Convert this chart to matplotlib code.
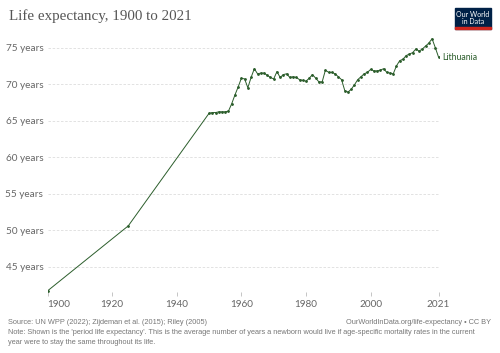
import matplotlib
matplotlib.use("Agg")
import matplotlib.pyplot as plt
from matplotlib.patches import Rectangle

# ── Data ──────────────────────────────────────────────────────────────────
years = [1900, 1925] + list(range(1950, 2022))
life_exp = [
    41.7, 50.6,
    66.0, 66.1, 66.1, 66.2, 66.2, 66.2, 66.3, 67.3, 68.5, 69.6,   # 1950-59
    70.8, 70.7, 69.5, 70.9, 72.1, 71.4, 71.5, 71.5, 71.2, 70.9,   # 1960-69
    70.7, 71.7, 70.9, 71.3, 71.4, 70.9, 71.0, 70.9, 70.6, 70.5,   # 1970-79
    70.4, 70.8, 71.3, 70.8, 70.3, 70.3, 71.9, 71.6, 71.6, 71.4,   # 1980-89
    71.0, 70.6, 69.1, 68.9, 69.3, 69.9, 70.6, 71.0, 71.4, 71.6,   # 1990-99
    72.0, 71.8, 71.8, 71.9, 72.1, 71.6, 71.5, 71.4, 72.5, 73.2,   # 2000-09
    73.4, 73.9, 74.1, 74.3, 74.8, 74.5, 74.8, 75.2, 75.6, 76.2,   # 2010-19
    75.0, 73.7,                                                   # 2020-21
]
country = "Lithuania"
y_ticks = [45, 50, 55, 60, 65, 70, 75]
x_ticks = [1900, 1920, 1940, 1960, 1980, 2000, 2021]

LINE_COLOR = "#2b5d2b"
GRAY = "#666666"

fig = plt.figure(figsize=(5, 3.53), dpi=100)
fig.patch.set_facecolor("white")
ax = fig.add_axes([0.095, 1 - 292 / 353, 0.782, (292 - 38) / 353])

ax.plot(years, life_exp, color=LINE_COLOR, linewidth=0.7,
        marker="o", markersize=1.0, zorder=3)

ax.set_xlim(1900, 2021)
ax.set_ylim(41.55, 76.3)
ax.set_yticks(y_ticks)
ax.set_yticklabels([f"{v} years" for v in y_ticks])
ax.set_xticks(x_ticks)
ax.set_xticklabels([str(v) for v in x_ticks])
ax.get_xticklabels()[0].set_horizontalalignment("left")

ax.tick_params(axis="y", length=0, pad=3, labelsize=7.2, labelcolor=GRAY)
ax.tick_params(axis="x", length=3, width=0.6, color="#bbbbbb", pad=3,
               labelsize=7.2, labelcolor=GRAY)
for s in ax.spines.values():
    s.set_visible(False)
ax.grid(axis="y", color="#dddddd", linestyle=(0, (3, 2)), linewidth=0.6)
ax.set_axisbelow(True)
for lab in ax.get_xticklabels() + ax.get_yticklabels():
    lab.set_family("Lato")

ax.annotate(country, xy=(years[-1], life_exp[-1]), xytext=(3, 0),
            textcoords="offset points", ha="left", va="center",
            fontsize=6.3, color=LINE_COLOR, family="Lato", annotation_clip=False)

# Title
fig.text(0.018, 0.955, "Life expectancy, 1900 to 2021", fontsize=10.8,
         family="Liberation Serif", color="#555555", ha="left", va="center")

# Logo
fig.patches.append(Rectangle((455 / 500, 1 - 29 / 353), 36 / 500, 21 / 353,
                             transform=fig.transFigure, color="#002147"))
fig.patches.append(Rectangle((455 / 500, 1 - 29 / 353), 36 / 500, 1.5 / 353,
                             transform=fig.transFigure, color="#ce261e"))
fig.text(473 / 500, 1 - 18 / 353, "Our World\nin Data", fontsize=5.0,
         color="white", ha="center", va="center", family="Lato",
         linespacing=1.0)

# Footer
foot = dict(fontsize=5.35, color="#777777", family="Liberation Sans")
fig.text(0.016, 1 - 323 / 353, "Source: UN WPP (2022); Zijdeman et al. (2015); Riley (2005)",
         ha="left", va="center", **foot)
fig.text(0.982, 1 - 323 / 353, "OurWorldInData.org/life-expectancy • CC BY",
         ha="right", va="center", **foot)
fig.text(0.016, 1 - 333 / 353,
         "Note: Shown is the 'period life expectancy'. This is the average number of years a newborn would live if age-specific mortality rates in the current",
         ha="left", va="center", **foot)
fig.text(0.016, 1 - 343 / 353,
         "year were to stay the same throughout its life.",
         ha="left", va="center", **foot)

fig.savefig("out.png", dpi=100, facecolor="white")
